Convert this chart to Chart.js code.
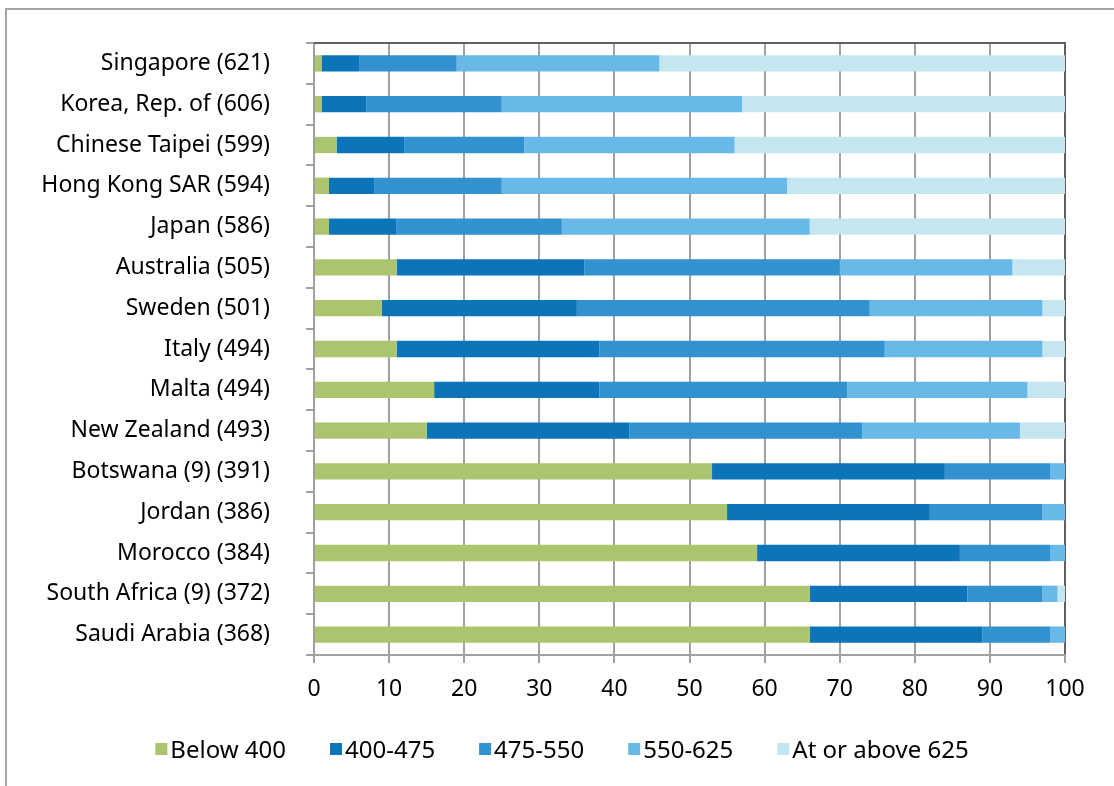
<!DOCTYPE html>
<html>
<head>
<meta charset="utf-8">
<script src="https://cdn.jsdelivr.net/npm/chart.js@4.4.1/dist/chart.umd.min.js"></script>
<style>
  html, body { margin: 0; padding: 0; background: #fff; overflow: hidden; }
  #frame { position: absolute; left: 5px; top: 8px; width: 1200px; height: 900px; border: 2px solid #a6a6a6; }
  #wrap { position: absolute; left: 0; top: 0; width: 1114px; height: 786px; }
</style>
</head>
<body>
<div id="frame"></div>
<div id="wrap"><canvas id="c" width="1114" height="786"></canvas></div>
<script>
const categories = [
  'Singapore (621)', 'Korea, Rep. of (606)', 'Chinese Taipei (599)', 'Hong Kong SAR (594)',
  'Japan (586)', 'Australia (505)', 'Sweden (501)', 'Italy (494)', 'Malta (494)',
  'New Zealand (493)', 'Botswana (9) (391)', 'Jordan (386)', 'Morocco (384)',
  'South Africa (9) (372)', 'Saudi Arabia (368)'
];
const seriesNames = ['Below 400', '400-475', '475-550', '550-625', 'At or above 625'];
const below400  = [1, 1, 3, 2, 2, 11, 9, 11, 16, 15, 53, 55, 59, 66, 66];
const r400_475  = [5, 6, 9, 6, 9, 25, 26, 27, 22, 27, 31, 27, 27, 21, 23];
const r475_550  = [13, 18, 16, 17, 22, 34, 39, 38, 33, 31, 14, 15, 12, 10, 9];
const r550_625  = [27, 32, 28, 38, 33, 23, 23, 21, 24, 21, 2, 3, 2, 2, 2];
const above625  = [54, 43, 44, 37, 34, 7, 3, 3, 5, 6, 0, 0, 0, 1, 0];
const xTicks = [0, 10, 20, 30, 40, 50, 60, 70, 80, 90, 100];

const colors = ['#abc46e', '#0c74b8', '#3291cf', '#69b9e8', '#c3e6ef'];
const seriesValues = [below400, r400_475, r475_550, r550_625, above625];
const FONT = "'Noto Sans', sans-serif";

const frameLines = {
  id: 'frameLines',
  afterDatasetsDraw(chart) {
    const {ctx, chartArea} = chart;
    ctx.save();
    ctx.strokeStyle = '#5f5f5f';
    ctx.lineWidth = 2;
    ctx.beginPath();
    ctx.moveTo(chartArea.left, chartArea.top);
    ctx.lineTo(chartArea.right + 1, chartArea.top);
    ctx.stroke();
    ctx.restore();
  }
};

const customLegend = {
  id: 'customLegend',
  afterDraw(chart) {
    const {ctx} = chart;
    ctx.save();
    ctx.font = '24px ' + FONT;
    ctx.textBaseline = 'middle';
    const box = 12, gap = 3, spacing = 44;
    const items = chart.data.datasets.map(d => ({text: d.label, color: d.backgroundColor, w: ctx.measureText(d.label).width}));
    const total = items.reduce((s, it, i) => s + box + gap + it.w + (i < items.length - 1 ? spacing : 0), 0);
    let x = 562 - total / 2;
    const y = 751;
    items.forEach(it => {
      ctx.fillStyle = it.color;
      ctx.fillRect(x, y - 8, box, box);
      ctx.fillStyle = '#000';
      ctx.fillText(it.text, x + box + gap, y);
      x += box + gap + it.w + spacing;
    });
    ctx.restore();
  }
};

new Chart(document.getElementById('c'), {
  type: 'bar',
  data: {
    labels: categories,
    datasets: seriesNames.map((name, i) => ({
      label: name,
      data: seriesValues[i],
      backgroundColor: colors[i],
      borderWidth: 0,
      barPercentage: 0.4,
      categoryPercentage: 1.0
    }))
  },
  options: {
    indexAxis: 'y',
    responsive: false,
    animation: false,
    devicePixelRatio: 1,
    layout: { padding: { left: 0, top: 43, right: 49, bottom: 80 } },
    plugins: {
      legend: { display: false },
      tooltip: { enabled: false }
    },
    scales: {
      x: {
        stacked: true,
        min: 0,
        max: 100,
        afterBuildTicks(scale) { scale.ticks = xTicks.map(v => ({value: v})); },
        afterFit(scale) { scale.height = 51; scale.paddingLeft = 0; scale.paddingRight = 0; },
        ticks: { color: '#000', font: { family: FONT, size: 23 }, padding: 13, maxRotation: 0 },
        grid: {
          color: ctx => (ctx.tick && ctx.tick.value === 100) ? '#5f5f5f' : '#a0a0a0',
          lineWidth: 2,
          tickLength: 8,
          tickColor: '#a0a0a0'
        },
        border: { color: '#a0a0a0', width: 2 }
      },
      y: {
        stacked: true,
        afterFit(scale) { scale.width = 314; scale.paddingTop = 0; scale.paddingBottom = 0; },
        ticks: { color: '#000', font: { family: FONT, size: 23 }, padding: 36, autoSkip: false },
        grid: {
          offset: true,
          drawOnChartArea: false,
          tickLength: 8,
          color: '#a0a0a0',
          lineWidth: 2
        },
        border: { color: '#a0a0a0', width: 2 }
      }
    }
  },
  plugins: [frameLines, customLegend]
});
</script>
</body>
</html>
